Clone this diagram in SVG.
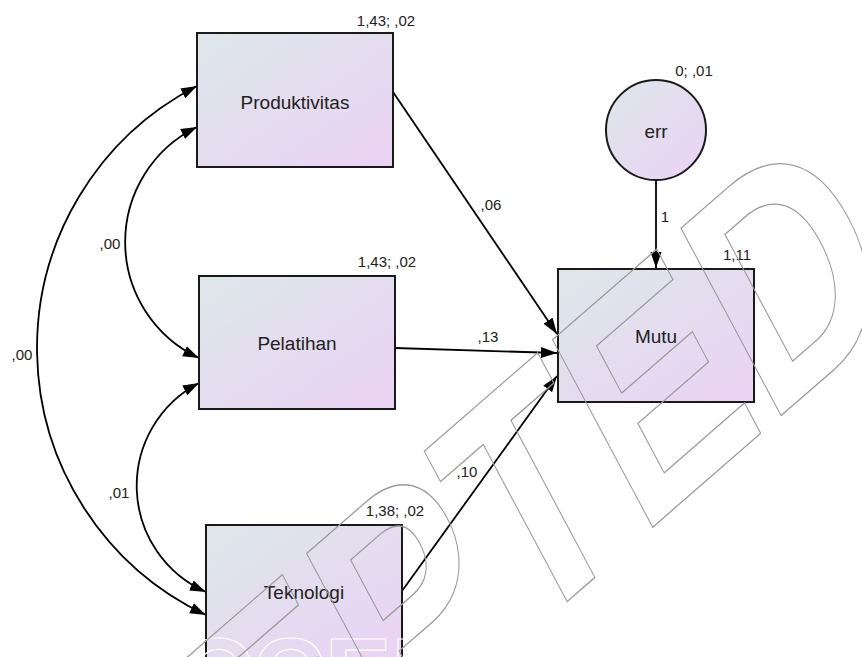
<svg xmlns="http://www.w3.org/2000/svg" width="862" height="657" viewBox="0 0 862 657">
  <defs>
    <linearGradient id="fillGrad" x1="0" y1="0" x2="1" y2="1">
      <stop offset="0" stop-color="#dde7ea"/>
      <stop offset="1" stop-color="#ebd2f4"/>
    </linearGradient>
    <marker id="arrow" markerUnits="userSpaceOnUse" markerWidth="17" markerHeight="12" refX="16" refY="6" orient="auto-start-reverse" viewBox="0 0 17 12">
      <path d="M0,0.5 L16,6 L0,11.5 z" fill="#000"/>
    </marker>
    <style>
      .box { fill: url(#fillGrad); stroke: #1a1a1a; stroke-width: 2; }
      .node-label { font-family: "Liberation Sans", Arial, sans-serif; font-size: 19px; fill: #222; text-anchor: middle; }
      .param { font-family: "Liberation Sans", Arial, sans-serif; font-size: 15px; fill: #222; text-anchor: middle; }
      .edge { fill: none; stroke: #000; stroke-width: 1.8; }
      .wm { font-family: "Liberation Sans", Arial, sans-serif; font-weight: bold; font-size: 100px; fill: none; }
    </style>
  </defs>
  <rect width="862" height="657" fill="#ffffff"/>

  <g id="connectors">
    <path class="edge" d="M393,92 L557,334" marker-end="url(#arrow)"/>
    <path class="edge" d="M395,348 L557,353" marker-end="url(#arrow)"/>
    <path class="edge" d="M402,591 L557,376" marker-end="url(#arrow)"/>
    <path class="edge" d="M656,180 L656,268" marker-end="url(#arrow)"/>
    <path class="edge" d="M197,127 A128,128 0 0,0 199,358" marker-start="url(#arrow)" marker-end="url(#arrow)"/>
    <path class="edge" d="M199,383 A116,116 0 0,0 206,592" marker-start="url(#arrow)" marker-end="url(#arrow)"/>
    <path class="edge" d="M197,86 A295,295 0 0,0 206,615" marker-start="url(#arrow)" marker-end="url(#arrow)"/>
    <text class="param" x="491" y="210">,06</text>
    <text class="param" x="488" y="342">,13</text>
    <text class="param" x="467" y="477">,10</text>
    <text class="param" x="665" y="222">1</text>
    <text class="param" x="110" y="249">,00</text>
    <text class="param" x="22" y="360">,00</text>
    <text class="param" x="119" y="498">,01</text>
  </g>

  <g id="node-produktivitas">
    <rect class="box" x="197" y="33" width="196" height="134"/>
    <text class="node-label" x="295" y="109">Produktivitas</text>
    <text class="param" x="386" y="26">1,43; ,02</text>
  </g>

  <g id="node-pelatihan">
    <rect class="box" x="199" y="276" width="196" height="133"/>
    <text class="node-label" x="297" y="350">Pelatihan</text>
    <text class="param" x="387" y="267">1,43; ,02</text>
  </g>

  <g id="node-teknologi">
    <rect class="box" x="206" y="525" width="196" height="134"/>
    <text class="node-label" x="304" y="599">Teknologi</text>
    <text class="param" x="395" y="516">1,38; ,02</text>
  </g>

  <g id="node-mutu">
    <rect class="box" x="558" y="269" width="196" height="133"/>
    <text class="node-label" x="656" y="343">Mutu</text>
    <text class="param" x="737" y="260">1,11</text>
  </g>

  <g id="node-err">
    <circle class="box" cx="656" cy="130" r="50"/>
    <text class="node-label" x="656" y="138">err</text>
    <text class="param" x="694" y="76">0; ,01</text>
  </g>

  <g id="watermark">
    <text class="wm" x="108" y="708" stroke="#ffffff" stroke-width="1.2">ACCEPTED</text>
    <text class="wm" x="0" y="0" transform="matrix(1.925,-1.673,1.455,2.725,-151.6,1226.2)" stroke="#9a9a9a" stroke-width="1.2" vector-effect="non-scaling-stroke">ACCEPTED</text>
  </g>
</svg>
